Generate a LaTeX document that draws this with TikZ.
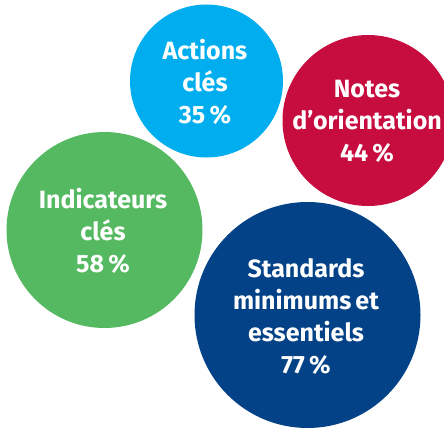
\documentclass[tikz,border=0pt]{standalone}
\usepackage{fontspec}
\setmainfont{Fira Sans}
\definecolor{cLightBlue}{RGB}{0,174,239}
\definecolor{cCrimson}{RGB}{199,12,63}
\definecolor{cGreen}{RGB}{84,185,96}
\definecolor{cNavy}{RGB}{3,66,134}
\tikzset{
  bubble/.style={circle, inner sep=0pt, draw=none},
  bubbletext/.style={text=white, align=center, inner sep=0pt,
    font=\bfseries\fontsize{25}{32}\selectfont}
}
\begin{document}
\begin{tikzpicture}[x=1pt,y=-1pt]
\useasboundingbox (0,0) rectangle (444,428);
\node[bubble, fill=cLightBlue, minimum size=153pt] (actions) at (206.5,81) {};
\node[bubble, fill=cCrimson, minimum size=171pt] (notes) at (368,120.5) {};
\node[bubble, fill=cGreen, minimum size=196pt] (indic) at (104.5,230) {};
\node[bubble, fill=cNavy, minimum size=226pt] (standards) at (307.5,315) {};
\node[bubbletext] (tactions) at (205,82) {Actions\\clés\\35\,\%};
\node[bubbletext] (tnotes) at (367,121) {Notes\\d’orientation\\44\,\%};
\node[bubbletext] (tindic) at (103,231) {Indicateurs\\clés\\58\,\%};
\node[bubbletext] (tstandards) at (306,316.5) {Standards\\minimums\,et\\essentiels\\77\,\%};
\end{tikzpicture}
\end{document}
